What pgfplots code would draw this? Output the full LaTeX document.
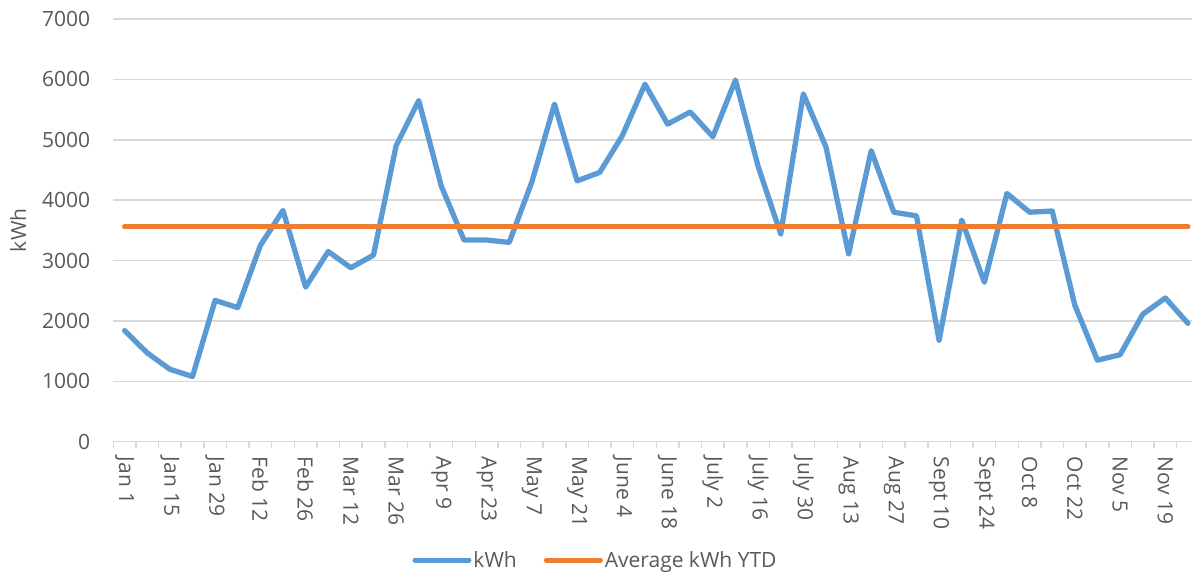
\documentclass[border=0pt]{standalone}
\usepackage{fontspec}
\setmainfont{Open Sans}
\usepackage{pgfplots}
\usepackage{pgfplotstable}
\pgfplotsset{compat=1.18}
\definecolor{txtgray}{HTML}{595959}
\definecolor{gridgray}{HTML}{D9D9D9}
\definecolor{xlblue}{HTML}{5B9BD5}
\definecolor{xlorange}{HTML}{ED7D31}
\pgfplotstableread{
x y avg
0 1840 3560
1 1470 3560
2 1200 3560
3 1080 3560
4 2340 3560
5 2220 3560
6 3250 3560
7 3830 3560
8 2560 3560
9 3150 3560
10 2880 3560
11 3090 3560
12 4900 3560
13 5650 3560
14 4230 3560
15 3340 3560
16 3340 3560
17 3300 3560
18 4300 3560
19 5590 3560
20 4320 3560
21 4460 3560
22 5070 3560
23 5920 3560
24 5260 3560
25 5460 3560
26 5050 3560
27 5990 3560
28 4560 3560
29 3440 3560
30 5760 3560
31 4880 3560
32 3110 3560
33 4820 3560
34 3800 3560
35 3740 3560
36 1680 3560
37 3670 3560
38 2640 3560
39 4110 3560
40 3800 3560
41 3820 3560
42 2260 3560
43 1350 3560
44 1440 3560
45 2110 3560
46 2380 3560
47 1960 3560
}\kwh
\begin{document}
\begin{tikzpicture}[font=\fontsize{21}{25}\selectfont]
\useasboundingbox (0,0) rectangle (1192pt,575pt);
\begin{axis}[
  at={(113.3pt,133.3pt)}, anchor=south west,
  scale only axis, width=1078.7pt, height=422.7pt,
  xmin=-0.5, xmax=47.18, ymin=0, ymax=7000,
  axis x line*=bottom, axis y line*=left,
  x axis line style={draw=gridgray, line width=1.5pt},
  y axis line style={draw=none},
  ytick={0,1000,...,7000},
  yticklabels={0,1000,2000,3000,4000,5000,6000,7000},
  ymajorgrids, grid style={draw=gridgray, line width=1.5pt},
  xtick={0,2,...,46},
  xticklabels={Jan 1, Jan 15, Jan 29, Feb 12, Feb 26, Mar 12, Mar 26, Apr 9, Apr 23, May 7, May 21, June 4, June 18, July 2, July 16, July 30, Aug 13, Aug 27, Sept 10, Sept 24, Oct 8, Oct 22, Nov 5, Nov 19},
  minor xtick={-0.5,0.5,...,46.5},
  major tick length=0pt, minor tick length=6pt,
  tick align=outside,
  minor tick style={draw=gridgray, line width=1.5pt},
  major tick style={draw=none},
  xticklabel style={text=txtgray, rotate=-90, anchor=west, inner sep=0pt},
  xticklabel shift=15pt,
  yticklabel style={text=txtgray, anchor=east, inner sep=0pt},
  yticklabel shift=23pt,
  ylabel={kWh},
  ylabel style={at={(axis description cs:-0.0883,0.5)}, anchor=center, text=txtgray},
  legend style={at={(0.447,-0.280)}, anchor=center, draw=none, fill=none,
    legend columns=2, text=txtgray, font=\fontsize{21}{25}\selectfont,
    /tikz/every even column/.append style={column sep=25pt}},
  legend image code/.code={\draw[#1, line width=5pt, line cap=round] (0pt,0pt) -- (54pt,0pt);},
]
\addplot[xlblue, line width=5.3pt, line join=round, line cap=round] table[x=x,y=y]{\kwh};
\addlegendentry{kWh}
\addplot[xlorange, line width=5.3pt, line cap=round] table[x=x,y=avg]{\kwh};
\addlegendentry{Average kWh YTD}
\end{axis}
\end{tikzpicture}
\end{document}
